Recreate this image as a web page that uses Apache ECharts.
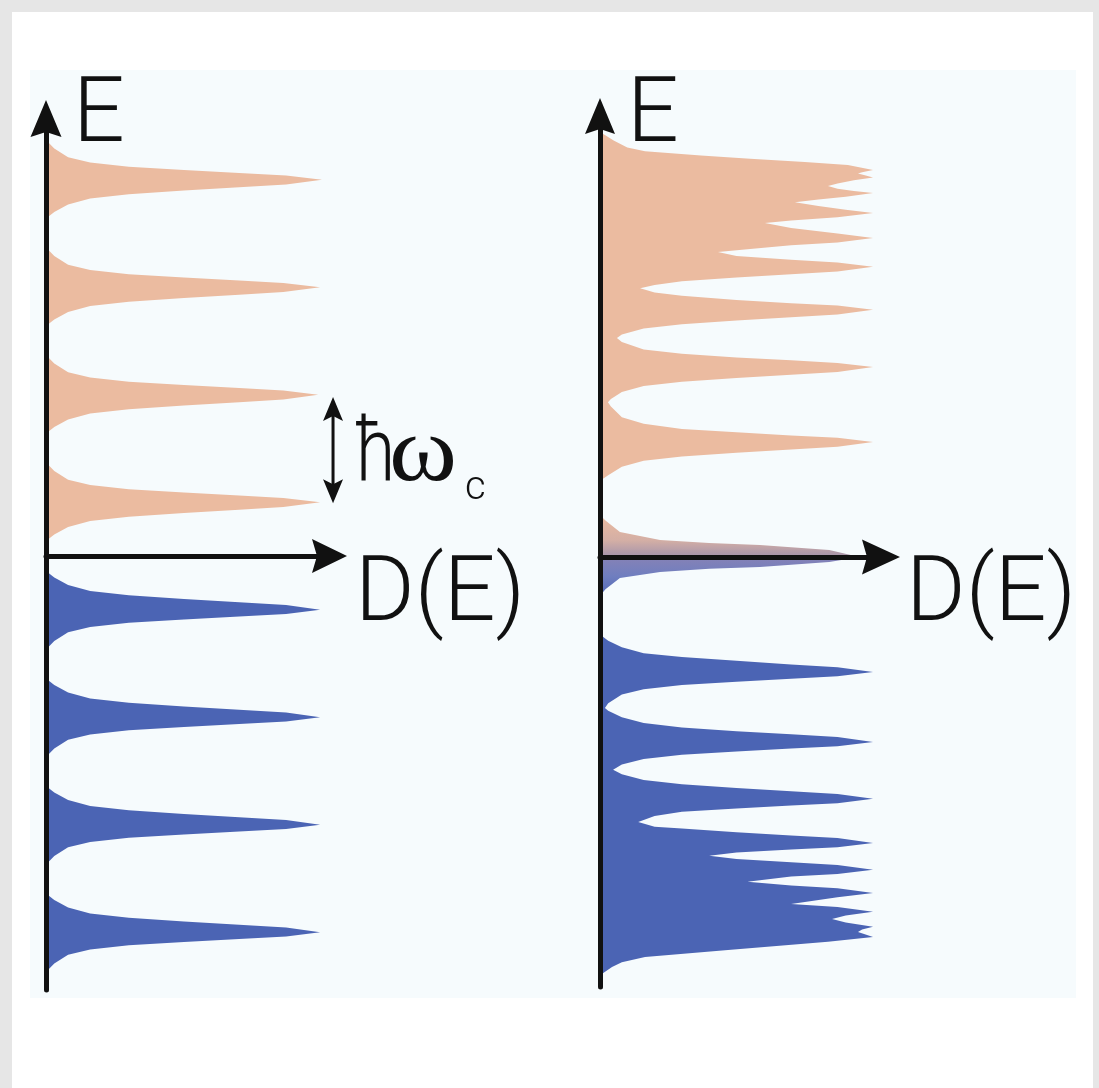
<!DOCTYPE html>
<html>
<head>
<meta charset="utf-8">
<title>D(E) Landau levels</title>
<script src="https://cdn.jsdelivr.net/npm/echarts@6/dist/echarts.min.js"></script>
<style>
html, body { margin: 0; padding: 0; background: #e6e6e6; }
#main { width: 1099px; height: 1088px; }
</style>
</head>
<body>
<div id="main"></div>
<script>
// E in units of hbar*omega_c, D(E) normalised to the peak height
// left panel: equally spaced levels (upper = orange, lower = blue)
var leftUpperDos = [
  [0, 3.87], [0.03, 3.79], [0.08, 3.71], [0.16, 3.66], [0.3, 3.62], [0.5, 3.59], [0.7, 3.562], [0.87, 3.54], [1.0, 3.5],
  [0.87, 3.455], [0.7, 3.43], [0.5, 3.40], [0.3, 3.365], [0.16, 3.325], [0.08, 3.27], [0.03, 3.20], [0, 3.14],
  [0, 2.87], [0.03, 2.79], [0.08, 2.71], [0.16, 2.66], [0.3, 2.62], [0.5, 2.59], [0.7, 2.562], [0.86, 2.54], [0.993, 2.5],
  [0.86, 2.455], [0.7, 2.43], [0.5, 2.40], [0.3, 2.365], [0.16, 2.325], [0.08, 2.27], [0.03, 2.20], [0, 2.14],
  [0, 1.87], [0.03, 1.79], [0.08, 1.71], [0.16, 1.66], [0.3, 1.62], [0.5, 1.59], [0.7, 1.562], [0.86, 1.54], [0.986, 1.5],
  [0.86, 1.455], [0.7, 1.43], [0.5, 1.40], [0.3, 1.365], [0.16, 1.325], [0.08, 1.27], [0.03, 1.20], [0, 1.14],
  [0, 0.87], [0.03, 0.79], [0.08, 0.71], [0.16, 0.66], [0.3, 0.62], [0.5, 0.59], [0.7, 0.562], [0.86, 0.54], [0.993, 0.5],
  [0.86, 0.455], [0.7, 0.43], [0.5, 0.40], [0.3, 0.365], [0.16, 0.325], [0.08, 0.27], [0.03, 0.20], [0, 0.14]
];
var leftLowerDos = [
  [0, -0.14], [0.03, -0.20], [0.08, -0.27], [0.16, -0.325], [0.3, -0.365], [0.5, -0.40], [0.7, -0.43], [0.87, -0.455], [0.993, -0.5],
  [0.87, -0.54], [0.7, -0.562], [0.5, -0.59], [0.3, -0.62], [0.16, -0.66], [0.08, -0.71], [0.03, -0.79], [0, -0.87],
  [0, -1.14], [0.03, -1.20], [0.08, -1.27], [0.16, -1.325], [0.3, -1.365], [0.5, -1.40], [0.7, -1.43], [0.87, -1.455], [0.993, -1.5],
  [0.87, -1.54], [0.7, -1.562], [0.5, -1.59], [0.3, -1.62], [0.16, -1.66], [0.08, -1.71], [0.03, -1.79], [0, -1.87],
  [0, -2.14], [0.03, -2.20], [0.08, -2.27], [0.16, -2.325], [0.3, -2.365], [0.5, -2.40], [0.7, -2.43], [0.87, -2.455], [0.993, -2.5],
  [0.87, -2.54], [0.7, -2.562], [0.5, -2.59], [0.3, -2.62], [0.16, -2.66], [0.08, -2.71], [0.03, -2.79], [0, -2.87],
  [0, -3.14], [0.03, -3.20], [0.08, -3.27], [0.16, -3.325], [0.3, -3.365], [0.5, -3.40], [0.7, -3.43], [0.87, -3.455], [0.993, -3.5],
  [0.87, -3.54], [0.7, -3.562], [0.5, -3.59], [0.3, -3.62], [0.16, -3.66], [0.08, -3.71], [0.03, -3.79], [0, -3.87]
];

// right panel: levels crowd together at high |E|, plus a zero-energy level
var rightUpperDos = [
  [0, 3.95], [0.018, 3.926], [0.05, 3.875], [0.1, 3.81], [0.165, 3.775], [0.37, 3.735], [0.55, 3.705], [0.75, 3.675], [0.908, 3.647], [1.0, 3.60],
  [0.96, 3.58], [0.945, 3.567], [0.97, 3.55], [1.0, 3.53],
  [0.93, 3.505], [0.87, 3.475], [0.835, 3.45], [0.87, 3.425], [0.93, 3.405], [1.0, 3.386],
  [0.9, 3.35], [0.8, 3.325], [0.714, 3.30], [0.8, 3.265], [0.9, 3.23], [1.0, 3.20],
  [0.87, 3.16], [0.7, 3.13], [0.604, 3.107], [0.7, 3.06], [0.87, 3.01], [1.0, 2.967],
  [0.87, 2.925], [0.7, 2.90], [0.55, 2.865], [0.432, 2.837], [0.5, 2.80], [0.7, 2.765], [0.87, 2.74], [1.0, 2.70],
  [0.87, 2.655], [0.7, 2.63], [0.5, 2.60], [0.3, 2.565], [0.2, 2.53], [0.147, 2.50], [0.2, 2.46], [0.3, 2.43],
  [0.5, 2.39], [0.7, 2.36], [0.87, 2.34], [1.0, 2.30],
  [0.87, 2.255], [0.7, 2.23], [0.5, 2.20], [0.3, 2.165], [0.16, 2.125], [0.08, 2.07], [0.062, 2.037], [0.08, 2.0],
  [0.16, 1.93], [0.3, 1.89], [0.5, 1.855], [0.7, 1.83], [0.87, 1.805], [1.0, 1.767],
  [0.87, 1.72], [0.7, 1.695], [0.5, 1.665], [0.3, 1.63], [0.16, 1.59], [0.08, 1.535], [0.04, 1.47], [0.029, 1.44],
  [0.04, 1.40], [0.08, 1.30], [0.16, 1.24], [0.3, 1.19], [0.5, 1.16], [0.7, 1.13], [0.87, 1.11], [1.0, 1.07],
  [0.87, 1.025], [0.7, 1.0], [0.5, 0.97], [0.3, 0.935], [0.16, 0.895], [0.08, 0.84], [0.03, 0.76], [0, 0.71]
];
var rightZeroUp = [
  [0, 0.39], [0.02, 0.34], [0.073, 0.233], [0.22, 0.158], [0.4, 0.13], [0.586, 0.112], [0.84, 0.065], [0.95, 0], [0, 0]
];
var rightZeroDown = [
  [0, 0], [0.95, 0], [0.84, -0.047], [0.586, -0.093], [0.4, -0.11], [0.22, -0.14], [0.073, -0.195], [0.02, -0.30], [0, -0.36]
];
var rightLowerDos = [
  [0, -0.72], [0.03, -0.78], [0.08, -0.84], [0.16, -0.895], [0.3, -0.93], [0.5, -0.965], [0.7, -1.0], [0.87, -1.025], [1.0, -1.07],
  [0.87, -1.11], [0.7, -1.132], [0.5, -1.16], [0.3, -1.19], [0.16, -1.23], [0.08, -1.28], [0.03, -1.36], [0.018, -1.405],
  [0.03, -1.43], [0.08, -1.49], [0.16, -1.545], [0.3, -1.585], [0.5, -1.62], [0.7, -1.65], [0.87, -1.675], [1.0, -1.72],
  [0.87, -1.76], [0.7, -1.782], [0.5, -1.81], [0.3, -1.84], [0.16, -1.88], [0.08, -1.93], [0.048, -1.98],
  [0.08, -2.02], [0.16, -2.075], [0.3, -2.115], [0.5, -2.15], [0.7, -2.18], [0.87, -2.205], [1.0, -2.25],
  [0.87, -2.29], [0.7, -2.312], [0.5, -2.34], [0.3, -2.37], [0.2, -2.41], [0.14, -2.465],
  [0.2, -2.51], [0.3, -2.525], [0.5, -2.56], [0.7, -2.59], [0.87, -2.615], [1.0, -2.66],
  [0.87, -2.70], [0.7, -2.722], [0.5, -2.75], [0.40, -2.78],
  [0.5, -2.81], [0.7, -2.84], [0.87, -2.865], [1.0, -2.91],
  [0.87, -2.95], [0.7, -2.972], [0.54, -3.02],
  [0.7, -3.056], [0.87, -3.081], [1.0, -3.126],
  [0.87, -3.166], [0.70, -3.228],
  [0.87, -3.255], [1.0, -3.30],
  [0.9, -3.335], [0.85, -3.367],
  [0.9, -3.40], [1.0, -3.44],
  [0.96, -3.465], [0.945, -3.488],
  [0.97, -3.51], [1.0, -3.535],
  [0.835, -3.58], [0.469, -3.656], [0.165, -3.72], [0.08, -3.77], [0.044, -3.814], [0, -3.89]
];

var ORANGE = '#ebbba0';
var BLUE = '#4b64b4';
var INK = '#111111';
var FONT = 'Roboto, "Liberation Sans", sans-serif';

var chart = echarts.init(document.getElementById('main'));

function shapeSeries(name, gridIdx, pts, fill) {
  return {
    type: 'custom',
    name: name,
    xAxisIndex: gridIdx,
    yAxisIndex: gridIdx,
    data: pts,
    encode: { x: 0, y: 1 },
    clip: false,
    silent: true,
    z: 2,
    renderItem: function (params, api) {
      if (params.dataIndex !== 0) return null;
      var points = pts.map(function (p) { return api.coord(p); });
      return { type: 'polygon', shape: { points: points }, style: { fill: fill } };
    }
  };
}

function makeAxis(gridIdx, min, max) {
  return {
    gridIndex: gridIdx,
    type: 'value',
    min: min,
    max: max,
    z: 5,
    axisLine: { show: true, onZero: true, lineStyle: { color: INK, width: 5 } },
    axisTick: { show: false },
    axisLabel: { show: false },
    splitLine: { show: false }
  };
}

function label(id, x, y, text, font) {
  return {
    type: 'text', id: id, x: x, y: y, z: 10,
    style: { text: text, font: font, fill: INK, align: 'left', verticalAlign: 'middle' }
  };
}

var option = {
  animation: false,
  grid: [
    { left: 46, top: 125, width: 284, height: 865, outerBoundsMode: 'none' },
    { left: 600, top: 123, width: 280, height: 864, outerBoundsMode: 'none' }
  ],
  xAxis: [
    makeAxis(0, 0, 1.029),
    makeAxis(1, 0, 1.0256)
  ],
  yAxis: [
    makeAxis(0, -4.037, 4.009),
    makeAxis(1, -4.0, 4.037)
  ],
  graphic: [
    { type: 'rect', id: 'paper', z: -20, silent: true, shape: { x: 12, y: 12, width: 1081, height: 1076 }, style: { fill: '#ffffff' } },
    { type: 'rect', id: 'panel', z: -19, silent: true, shape: { x: 30, y: 70, width: 1046, height: 928 }, style: { fill: '#f6fbfd' } },
    label('eLeft', 73, 118, 'E', '300 91px ' + FONT),
    label('eRight', 627, 118, 'E', '300 91px ' + FONT),
    label('dLeft', 355, 597, 'D(E)', '300 91px ' + FONT),
    label('dRight', 906, 597, 'D(E)', '300 91px ' + FONT),
    {
      type: 'text', id: 'hbar', x: 355, y: 458, scaleX: 0.8, z: 10,
      style: { text: 'ħ', font: '300 89px ' + FONT, fill: INK, align: 'left', verticalAlign: 'middle' }
    },
    {
      type: 'text', id: 'omega', x: 389, y: 455, scaleX: 1.1, z: 10,
      style: { text: 'ω', font: '94px "Liberation Serif", serif', fill: INK, align: 'left', verticalAlign: 'middle' }
    },
    label('sub', 465, 489, 'c', '300 40px ' + FONT)
  ],
  series: [
    shapeSeries('left upper', 0, leftUpperDos, ORANGE),
    shapeSeries('left lower', 0, leftLowerDos, BLUE),
    shapeSeries('right upper', 1, rightUpperDos, ORANGE),
    shapeSeries('right zero +', 1, rightZeroUp, new echarts.graphic.LinearGradient(0, 0, 0, 1, [
      { offset: 0, color: '#ebbba0' }, { offset: 0.6, color: '#d4afa5' }, { offset: 1, color: '#a493ab' }
    ])),
    shapeSeries('right zero -', 1, rightZeroDown, new echarts.graphic.LinearGradient(0, 0, 0, 1, [
      { offset: 0, color: '#8682b6' }, { offset: 0.5, color: '#6f7ebf' }, { offset: 1, color: '#5369b7' }
    ])),
    shapeSeries('right lower', 1, rightLowerDos, BLUE)
  ]
};
chart.setOption(option);

// arrow heads at the axis ends, placed from the axis end points
function head(id, end, dir, lead, len, halfW, notch) {
  var tip = [end[0] + dir[0] * lead, end[1] + dir[1] * lead];
  var base = [tip[0] - dir[0] * len, tip[1] - dir[1] * len];
  var mid = [tip[0] - dir[0] * (len - notch), tip[1] - dir[1] * (len - notch)];
  var perp = [-dir[1], dir[0]];
  return {
    type: 'polygon', id: id, z: 10, silent: true,
    shape: { points: [tip, [base[0] + perp[0] * halfW, base[1] + perp[1] * halfW], mid, [base[0] - perp[0] * halfW, base[1] - perp[1] * halfW]] },
    style: { fill: INK }
  };
}
var lxEnd = chart.convertToPixel({ gridIndex: 0 }, [1.029, 0]);
var lyEnd = chart.convertToPixel({ gridIndex: 0 }, [0, 4.009]);
var rxEnd = chart.convertToPixel({ gridIndex: 1 }, [1.0256, 0]);
var ryEnd = chart.convertToPixel({ gridIndex: 1 }, [0, 4.037]);

// spacing arrow (hbar omega_c) between the two lowest orange levels of the left panel
var pTop = chart.convertToPixel({ gridIndex: 0 }, [1.04, 1.48]);
var pBot = chart.convertToPixel({ gridIndex: 0 }, [1.04, 0.49]);
var ax = pTop[0];
chart.setOption({
  graphic: [
    head('lxHead', lxEnd, [1, 0], 17, 35, 17, 5),
    head('lyHead', lyEnd, [0, -1], 25, 37, 15.5, 5),
    head('rxHead', rxEnd, [1, 0], 20, 38, 17.5, 5),
    head('ryHead', ryEnd, [0, -1], 25, 36, 15, 5),
    { type: 'line', id: 'spanLine', z: 10, silent: true, shape: { x1: ax, y1: pTop[1] + 15, x2: ax, y2: pBot[1] - 15 }, style: { stroke: INK, lineWidth: 3 } },
    head('spanTop', [ax, pTop[1]], [0, -1], 0, 24, 10, 5),
    head('spanBot', [ax, pBot[1]], [0, 1], 0, 24, 10, 5)
  ]
});
</script>
</body>
</html>
